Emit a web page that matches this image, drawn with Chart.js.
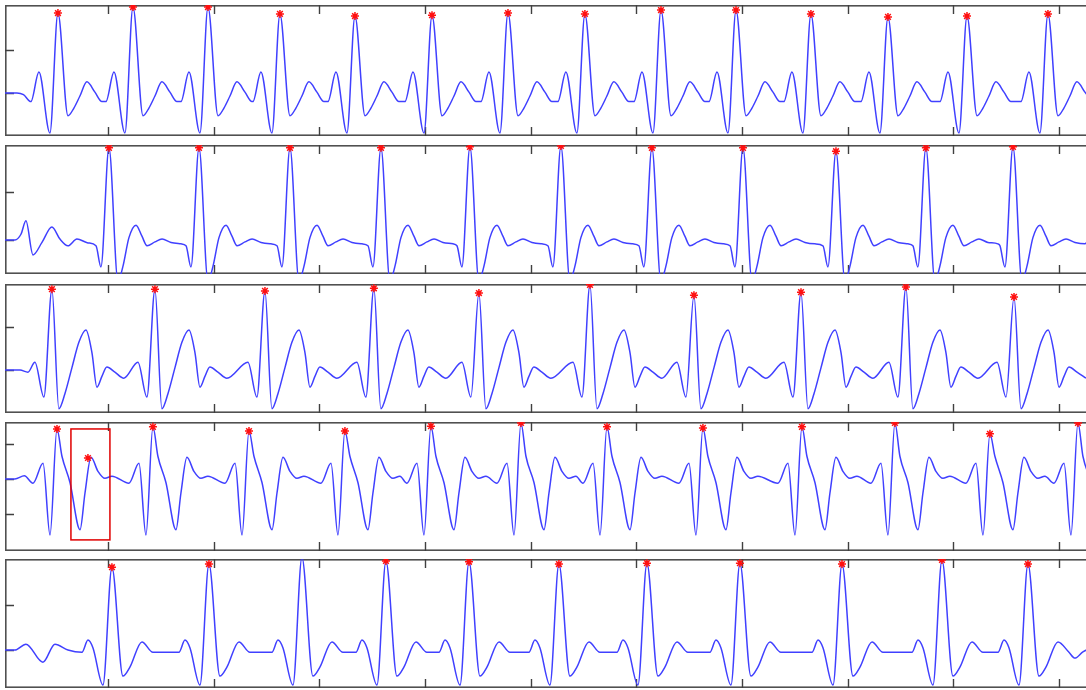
<!DOCTYPE html>
<html>
<head>
    <meta charset="utf-8">
    <title>ECG R-peak detection</title>
    <script src="https://cdn.jsdelivr.net/npm/chart.js"></script>
    <style>
        body { margin: 0; background: #fff; overflow: hidden; width: 1086px; height: 690px; position: relative; }
        canvas { position: absolute; left: 5px; }
    </style>
</head>
<body>
    <canvas id="p1" width="1100" height="131" style="top:5px"></canvas>
    <canvas id="p2" width="1100" height="129" style="top:145px"></canvas>
    <canvas id="p3" width="1100" height="129" style="top:284px"></canvas>
    <canvas id="p4" width="1100" height="129" style="top:422px"></canvas>
    <canvas id="p5" width="1100" height="129" style="top:559px"></canvas>

    <script>
        // time ticks (s), shared by all strips
        var xTicks = [1, 2, 3, 4, 5, 6, 7, 8, 9, 10];

        // strip 1: R peak times (s) and amplitudes (mV)
        var p1Peaks = [0.526, 1.236, 1.946, 2.627, 3.337, 4.066, 4.785, 5.513, 6.233, 6.943, 7.652, 8.381, 9.129, 9.895];
        var p1Amps = [1.86, 2.0, 2.0, 1.84, 1.79, 1.81, 1.86, 1.84, 1.93, 1.93, 1.84, 1.77, 1.79, 1.84];
        // beat shape around R: [offset s, mV]
        var p1Pre = [[-0.256, -0.2], [-0.180, 0.49], [-0.076, -0.93]];
        var p1Post = [[0.095, -0.53], [0.151, -0.35], [0.208, -0.07], [0.274, 0.26], [0.350, 0.02], [0.416, -0.2]];
        var p1Edge = [[0.025, 0], [0.138, 0], [0.20, -0.04]];

        // strip 2
        var p2Peaks = [1.009, 1.861, 2.722, 3.583, 4.425, 5.286, 6.147, 7.009, 7.889, 8.740, 9.564];
        var p2Amps = [1.92, 1.92, 1.92, 1.92, 1.94, 1.96, 1.92, 1.92, 1.85, 1.92, 1.94];
        var p2Pre = [[-0.123, -0.12], [-0.076, -0.56]];
        var p2Post = [[0.085, -0.85], [0.132, -0.55], [0.189, 0.05], [0.256, 0.31], [0.312, 0.08], [0.360, -0.12],
                      [0.435, -0.04], [0.502, 0.02], [0.587, -0.05], [0.681, -0.08]];
        var p2Edge = [[0.025, 0], [0.119, 0], [0.176, 0.12], [0.223, 0.4], [0.290, -0.31], [0.375, -0.05],
                      [0.469, 0.27], [0.545, 0.02], [0.621, -0.12], [0.706, 0.02], [0.810, -0.06], [10.30, 0.12]];

        // strip 3
        var p3Peaks = [0.469, 1.444, 2.485, 3.516, 4.510, 5.561, 6.545, 7.558, 8.551, 9.574];
        var p3Amps = [1.88, 1.88, 1.84, 1.9, 1.79, 1.98, 1.74, 1.81, 1.93, 1.70];
        var p3Pre = [[-0.161, 0.18], [-0.076, -0.63]];
        var p3Post = [[0.066, -0.9], [0.123, -0.55], [0.189, 0.05], [0.256, 0.65], [0.322, 0.93], [0.379, 0.4],
                      [0.426, -0.4], [0.473, -0.15], [0.520, 0.07], [0.596, -0.05], [0.681, -0.19]];
        var p3Edge = [[0.025, 0], [0.167, 0], [0.242, -0.05]];

        // strip 4
        var p4Peaks = [0.517, 1.425, 2.334, 3.242, 4.056, 4.908, 5.722, 6.630, 7.567, 8.447, 9.346, 10.179];
        var p4Amps = [1.43, 1.49, 1.37, 1.37, 1.51, 1.6, 1.49, 1.46, 1.49, 1.6, 1.29, 1.6];
        var p4Pre = [[-0.227, -0.12], [-0.132, 0.45], [-0.066, -1.6]];
        var p4Post = [[0.047, 0.65], [0.123, -0.1], [0.218, -1.45], [0.265, -0.4], [0.322, 0.62], [0.388, 0.22],
                      [0.454, 0.02], [0.520, 0.08]];
        var p4Edge = [[0.025, 0], [0.119, 0], [0.208, 0.09]];
        var p4ExtraStars = [[0.810, 0.6]];
        var p4Box = [0.649, 1.018, 1.43, -1.74]; // x from, x to, top, bottom

        // strip 5
        var p5Peaks = [1.037, 1.955, 2.835, 3.630, 4.416, 5.267, 6.100, 6.980, 7.946, 8.892, 9.706];
        var p5Amps = [1.84, 1.91, 2.06, 1.98, 1.96, 1.91, 1.93, 1.93, 1.91, 2.0, 1.91];
        var p5Unmarked = [2];
        var p5Pre = [[-0.284, -0.05], [-0.227, 0.22], [-0.180, 0.05], [-0.085, -0.78]];
        var p5Post = [[0.104, -0.58], [0.170, -0.38], [0.284, 0.18], [0.388, -0.05]];
        var p5Edge = [[0.025, 0], [0.119, 0], [0.223, 0.13], [0.384, -0.27], [0.498, 0.13], [0.621, 0.0],
                      [10.150, -0.18], [10.226, -0.04], [10.31, 0.05]];

        // build the full trace of a strip from its beats
        function buildTrace(edge, peaks, amps, pre, post) {
            var pts = edge.map(function (p) { return { x: p[0], y: p[1] }; });
            peaks.forEach(function (t, i) {
                pre.forEach(function (p) { pts.push({ x: t + p[0], y: p[1] }); });
                pts.push({ x: t, y: amps[i] });
                post.forEach(function (p) { pts.push({ x: t + p[0], y: p[1] }); });
            });
            pts.sort(function (a, b) { return a.x - b.x; });
            return pts;
        }

        function buildStars(peaks, amps, skip, extra) {
            var pts = [];
            peaks.forEach(function (t, i) {
                if (!skip || skip.indexOf(i) < 0) pts.push({ x: t, y: amps[i] });
            });
            (extra || []).forEach(function (p) { pts.push({ x: p[0], y: p[1] }); });
            return pts;
        }

        // frame, inward ticks and the marked box
        var framePlugin = {
            id: 'frameTicks',
            beforeDatasetsDraw: function (chart, args, opts) {
                var ctx = chart.ctx, a = chart.chartArea, x = chart.scales.x, y = chart.scales.y;
                ctx.save();
                ctx.strokeStyle = '#505050';
                ctx.lineWidth = 1.6;
                ctx.strokeRect(a.left + 0.8, a.top + 0.8, a.right - a.left - 1.6, a.bottom - a.top - 1.6);
                ctx.lineWidth = 1.4;
                ctx.strokeStyle = '#404040';
                ctx.beginPath();
                xTicks.forEach(function (v) {
                    var px = Math.round(x.getPixelForValue(v)) + 0.5;
                    ctx.moveTo(px, a.bottom); ctx.lineTo(px, a.bottom - 9);
                    ctx.moveTo(px, a.top); ctx.lineTo(px, a.top + 9);
                });
                opts.yTicks.forEach(function (v) {
                    var py = Math.round(y.getPixelForValue(v)) + 0.5;
                    ctx.moveTo(a.left, py); ctx.lineTo(a.left + 9, py);
                });
                ctx.stroke();
                ctx.restore();
            },
            afterDatasetsDraw: function (chart, args, opts) {
                if (!opts.box) return;
                var ctx = chart.ctx, x = chart.scales.x, y = chart.scales.y, b = opts.box;
                var l = x.getPixelForValue(b[0]), r = x.getPixelForValue(b[1]);
                var t = y.getPixelForValue(b[2]), btm = y.getPixelForValue(b[3]);
                ctx.save();
                ctx.strokeStyle = '#e00000';
                ctx.lineWidth = 1.5;
                ctx.strokeRect(l, t, r - l, btm - t);
                ctx.restore();
            }
        };

        var strips = [
            { id: 'p1', trace: buildTrace(p1Edge, p1Peaks, p1Amps, p1Pre, p1Post), stars: buildStars(p1Peaks, p1Amps),
              yMin: -1.0, yMax: 2.047, yTicks: [0, 1] },
            { id: 'p2', trace: buildTrace(p2Edge, p2Peaks, p2Amps, p2Pre, p2Post), stars: buildStars(p2Peaks, p2Amps),
              yMin: -0.708, yMax: 1.979, yTicks: [0, 1] },
            { id: 'p3', trace: buildTrace(p3Edge, p3Peaks, p3Amps, p3Pre, p3Post), stars: buildStars(p3Peaks, p3Amps),
              yMin: -1.0, yMax: 2.0, yTicks: [0, 1] },
            { id: 'p4', trace: buildTrace(p4Edge, p4Peaks, p4Amps, p4Pre, p4Post), stars: buildStars(p4Peaks, p4Amps, null, p4ExtraStars),
              yMin: -2.057, yMax: 1.629, yTicks: [-1, 0, 1], box: p4Box },
            { id: 'p5', trace: buildTrace(p5Edge, p5Peaks, p5Amps, p5Pre, p5Post), stars: buildStars(p5Peaks, p5Amps, p5Unmarked),
              yMin: -0.844, yMax: 2.022, yTicks: [0, 1] }
        ];

        strips.forEach(function (s) {
            new Chart(document.getElementById(s.id), {
                type: 'line',
                data: {
                    datasets: [
                        {
                            data: s.stars,
                            showLine: false,
                            pointStyle: 'star',
                            pointRadius: 4,
                            pointBorderWidth: 1.5,
                            pointBorderColor: '#ff1010',
                            pointBackgroundColor: '#ff1010',
                            clip: false
                        },
                        {
                            data: s.trace,
                            borderColor: '#4040ff',
                            borderWidth: 1.5,
                            pointRadius: 0,
                            cubicInterpolationMode: 'monotone',
                            fill: false
                        }
                    ]
                },
                options: {
                    responsive: false,
                    devicePixelRatio: 1,
                    animation: false,
                    events: [],
                    layout: { padding: 0, autoPadding: false },
                    plugins: {
                        legend: { display: false },
                        tooltip: { enabled: false },
                        frameTicks: { yTicks: s.yTicks, box: s.box }
                    },
                    scales: {
                        x: { type: 'linear', min: 0.025, max: 10.435, display: false },
                        y: { min: s.yMin, max: s.yMax, display: false }
                    }
                },
                plugins: [framePlugin]
            });
        });
    </script>
</body>
</html>
